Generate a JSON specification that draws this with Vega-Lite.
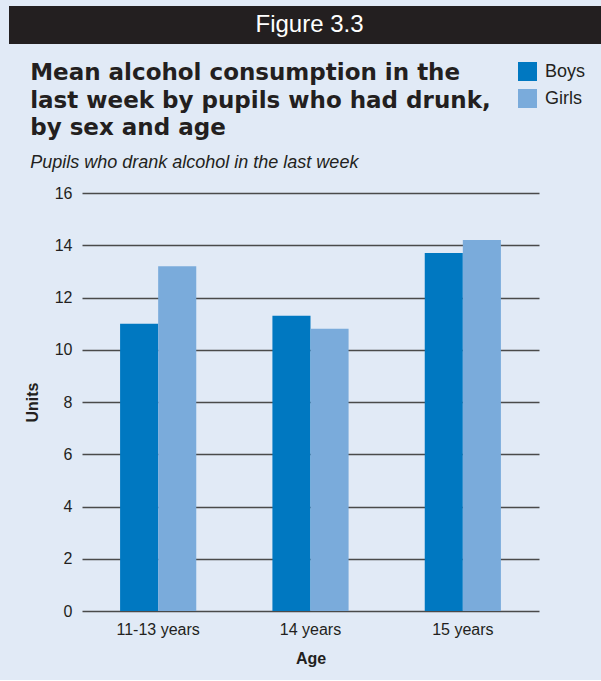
{
  "$schema": "https://vega.github.io/schema/vega-lite/v6.json",
  "background": "#e1eaf6",
  "padding": {"left": 6, "top": 6, "right": 0, "bottom": 14},
  "spacing": 18,
  "resolve": {"legend": {"color": "independent"}},
  "config": {
    "font": "Liberation Sans",
    "view": {"stroke": null}
  },
  "datasets": {
    "header": [{"label": "Figure 3.3"}],
    "bars": [
      {"age": "11-13 years", "sex": "Boys", "units": 11.0},
      {"age": "11-13 years", "sex": "Girls", "units": 13.2},
      {"age": "14 years", "sex": "Boys", "units": 11.3},
      {"age": "14 years", "sex": "Girls", "units": 10.8},
      {"age": "15 years", "sex": "Boys", "units": 13.7},
      {"age": "15 years", "sex": "Girls", "units": 14.2}
    ]
  },
  "vconcat": [
    {
      "width": 595,
      "height": 38,
      "view": {"fill": "#231f20", "stroke": null},
      "data": {"name": "header"},
      "mark": {"type": "text", "color": "#ffffff", "fontSize": 24, "font": "Liberation Sans", "baseline": "middle", "align": "center", "dx": 3},
      "encoding": {"text": {"field": "label", "type": "nominal"}}
    },
    {
      "spacing": 11,
      "hconcat": [
        {
          "width": 1,
          "height": 1,
          "data": {"name": "header"},
          "mark": {"type": "point", "opacity": 0},
          "encoding": {}
        },
        {
          "width": 457,
          "height": 418,
          "data": {"name": "bars"},
          "title": {
            "text": ["Mean alcohol consumption in the", "last week by pupils who had drunk,", "by sex and age"],
            "subtitle": "Pupils who drank alcohol in the last week",
            "anchor": "start",
            "frame": "bounds",
            "font": "DejaVu Sans",
            "fontSize": 23,
            "fontWeight": "bold",
            "lineHeight": 27.5,
            "color": "#231f20",
            "subtitleFont": "Liberation Sans",
            "subtitleFontSize": 18,
            "subtitleFontStyle": "italic",
            "subtitleColor": "#231f20",
            "subtitlePadding": 14,
            "offset": 13,
            "dx": 6
          },
          "mark": {"type": "bar"},
          "encoding": {
            "x": {
              "field": "age",
              "type": "nominal",
              "scale": {"paddingInner": 0.5, "paddingOuter": 0.25},
              "axis": {
                "title": "Age",
                "labelAngle": 0,
                "labelFontSize": 16,
                "labelColor": "#231f20",
                "labelPadding": 10,
                "ticks": false,
                "domain": false,
                "titleFontSize": 16,
                "titleFontWeight": "bold",
                "titleColor": "#231f20",
                "titlePadding": 13
              }
            },
            "xOffset": {"field": "sex", "type": "nominal"},
            "y": {
              "field": "units",
              "type": "quantitative",
              "scale": {"domain": [0, 16]},
              "axis": {
                "title": "Units",
                "values": [0, 2, 4, 6, 8, 10, 12, 14, 16],
                "labelFontSize": 16,
                "labelColor": "#231f20",
                "labelPadding": 10,
                "ticks": false,
                "domain": false,
                "gridColor": "#4a4a4a",
                "gridWidth": 1.5,
                "titleFontSize": 16,
                "titleFontWeight": "bold",
                "titleColor": "#231f20",
                "titlePadding": 14
              }
            },
            "color": {
              "field": "sex",
              "type": "nominal",
              "scale": {"domain": ["Boys", "Girls"], "range": ["#0078c1", "#7aabdb"]},
              "legend": {
                "title": null,
                "orient": "none",
                "legendX": 509,
                "legendY": -131,
                "symbolType": "square",
                "symbolSize": 361,
                "symbolStrokeWidth": 0,
                "labelFontSize": 18,
                "labelColor": "#231f20",
                "rowPadding": 8,
                "labelOffset": 8
              }
            }
          }
        }
      ]
    }
  ]
}
